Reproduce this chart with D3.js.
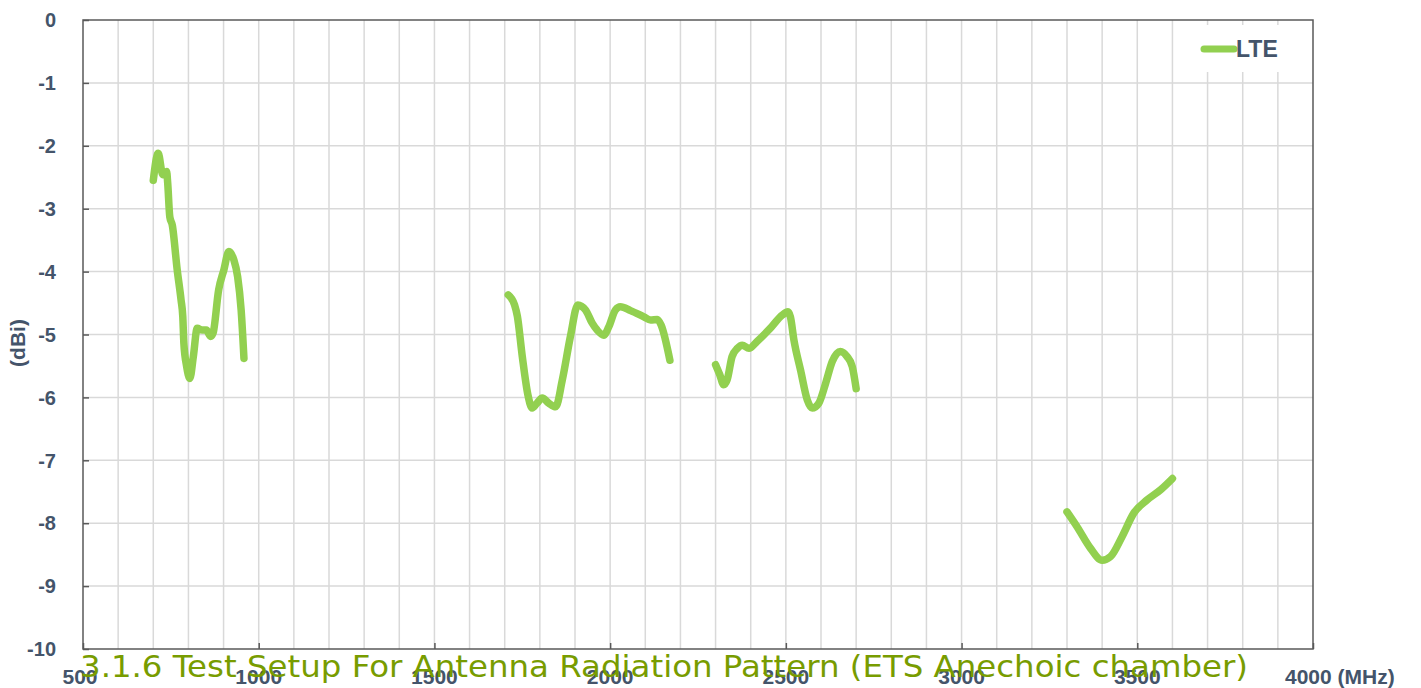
<!DOCTYPE html>
<html>
<head>
<meta charset="utf-8">
<script src="https://cdn.jsdelivr.net/npm/d3@7"></script>
<style>
  body { margin: 0; background: #fff; }
  .lbl { font-family: "Liberation Sans", Arial, sans-serif; font-weight: bold; }
  .title { font-family: "DejaVu Sans", Verdana, sans-serif; }
</style>
</head>
<body>
<div id="chart"></div>
<script>
// LTE gain per band
const band1Freq = [700, 714, 727, 738, 741, 747, 754, 768, 779, 784, 787, 795, 804, 814, 825, 839, 851, 863, 870, 886, 901, 915, 929, 940, 950, 958];
const band1Gain = [-2.55, -2.12, -2.46, -2.41, -2.59, -3.13, -3.26, -3.97, -4.45, -4.72, -5.14, -5.51, -5.70, -5.35, -4.90, -4.93, -4.93, -5.03, -4.98, -4.29, -3.97, -3.68, -3.81, -4.08, -4.61, -5.38];
const band2Freq = [1710, 1728, 1736, 1750, 1766, 1778, 1792, 1807, 1825, 1845, 1864, 1887, 1908, 1930, 1949, 1963, 1982, 1996, 2015, 2029, 2058, 2096, 2115, 2134, 2145, 2170];
const band2Gain = [-4.37, -4.53, -4.71, -5.35, -5.96, -6.17, -6.09, -6.01, -6.09, -6.15, -5.72, -5.03, -4.53, -4.61, -4.82, -4.93, -5.01, -4.88, -4.61, -4.56, -4.62, -4.72, -4.77, -4.76, -4.85, -5.41];
const band3Freq = [2300, 2312, 2323, 2333, 2347, 2362, 2376, 2395, 2418, 2456, 2490, 2506, 2513, 2523, 2542, 2561, 2575, 2594, 2613, 2632, 2655, 2674, 2689, 2700];
const band3Gain = [-5.48, -5.64, -5.80, -5.72, -5.35, -5.22, -5.17, -5.22, -5.11, -4.90, -4.69, -4.64, -4.72, -5.09, -5.57, -6.04, -6.17, -6.09, -5.78, -5.43, -5.27, -5.35, -5.51, -5.86];
const band4Freq = [3300, 3329, 3367, 3400, 3424, 3457, 3490, 3528, 3566, 3600];
const band4Gain = [-7.82, -8.06, -8.40, -8.59, -8.53, -8.21, -7.84, -7.63, -7.47, -7.29];

const xTicks = [500, 1000, 1500, 2000, 2500, 3000, 3500, 4000];
const yTicks = [0, -1, -2, -3, -4, -5, -6, -7, -8, -9, -10];
const seriesName = "LTE";
const titleText = "3.1.6 Test Setup For Antenna Radiation Pattern (ETS Anechoic chamber)";

const width = 1421;
const height = 688;
const marginLeft = 83;
const marginRight = 108;
const marginTop = 20;
const marginBottom = 39;

const textColor = "#44546a";
const lineColor = "#92d050";

const svg = d3.select('#chart').append('svg')
    .attr('width', width)
    .attr('height', height);

const x = d3.scaleLinear()
    .domain([500, 4000])
    .range([marginLeft, width - marginRight]);

const y = d3.scaleLinear()
    .domain([-10, 0])
    .range([height - marginBottom, marginTop]);

// grid: every 100 MHz and every 1 dB
svg.append("g")
    .attr("stroke", "#d9d9d9")
    .attr("stroke-width", 1.5)
    .selectAll()
    .data(d3.range(600, 4000, 100))
    .join("line")
    .attr("x1", d => x(d)).attr("x2", d => x(d))
    .attr("y1", marginTop).attr("y2", height - marginBottom);

svg.append("g")
    .attr("stroke", "#d9d9d9")
    .attr("stroke-width", 1.5)
    .selectAll()
    .data(yTicks.slice(1, -1))
    .join("line")
    .attr("x1", marginLeft).attr("x2", width - marginRight)
    .attr("y1", d => y(d)).attr("y2", d => y(d));

// axes (inner ticks, labels drawn separately)
svg.append("g")
    .attr("transform", `translate(0,${height - marginBottom})`)
    .call(d3.axisTop(x).tickValues(xTicks).tickSize(6).tickFormat(""))
    .call(g => g.selectAll(".tick line").attr("stroke", "#595959").attr("stroke-width", 1.5))
    .call(g => g.select(".domain").remove());

svg.append("g")
    .attr("transform", `translate(${marginLeft},0)`)
    .call(d3.axisRight(y).tickValues(yTicks).tickSize(6).tickFormat(""))
    .call(g => g.selectAll(".tick line").attr("stroke", "#595959").attr("stroke-width", 1.5))
    .call(g => g.select(".domain").remove());

// frame
svg.append("rect")
    .attr("x", marginLeft).attr("y", marginTop)
    .attr("width", width - marginRight - marginLeft)
    .attr("height", height - marginBottom - marginTop)
    .attr("fill", "none")
    .attr("stroke", "#595959")
    .attr("stroke-width", 1.5);

// tick labels
svg.append("g")
    .attr("class", "lbl")
    .attr("fill", textColor)
    .attr("font-size", 20)
    .attr("text-anchor", "end")
    .selectAll()
    .data(yTicks)
    .join("text")
    .attr("x", 56)
    .attr("y", d => y(d))
    .attr("dy", "0.36em")
    .text(d => d);

svg.append("g")
    .attr("class", "lbl")
    .attr("fill", textColor)
    .attr("font-size", 21)
    .attr("text-anchor", "middle")
    .selectAll()
    .data(xTicks.slice(0, -1))
    .join("text")
    .attr("x", d => x(d) - (d === 500 ? 3 : 0))
    .attr("y", 684)
    .text(d => d);

svg.append("text")
    .attr("class", "lbl")
    .attr("fill", textColor)
    .attr("font-size", 21)
    .attr("x", x(4000) - 28)
    .attr("y", 684)
    .text(xTicks[xTicks.length - 1] + " (MHz)");

svg.append("text")
    .attr("class", "lbl")
    .attr("fill", textColor)
    .attr("font-size", 21)
    .attr("text-anchor", "middle")
    .attr("transform", `translate(25,343) rotate(-90)`)
    .text("(dBi)");

// the LTE curve, one path per band
const bands = [
    d3.zip(band1Freq, band1Gain),
    d3.zip(band2Freq, band2Gain),
    d3.zip(band3Freq, band3Gain),
    d3.zip(band4Freq, band4Gain)
];

const line = d3.line()
    .x(d => x(d[0]))
    .y(d => y(d[1]))
    .curve(d3.curveMonotoneX);

svg.append("g")
    .attr("fill", "none")
    .attr("stroke", lineColor)
    .attr("stroke-width", 7.5)
    .attr("stroke-linecap", "round")
    .attr("stroke-linejoin", "round")
    .selectAll()
    .data(bands)
    .join("path")
    .attr("d", line);

// legend
const legend = svg.append("g");
legend.append("rect")
    .attr("x", 1182).attr("y", 25)
    .attr("width", 118).attr("height", 47)
    .attr("fill", "#fff");
legend.append("line")
    .attr("x1", 1204).attr("x2", 1234)
    .attr("y1", 49).attr("y2", 49)
    .attr("stroke", lineColor)
    .attr("stroke-width", 7)
    .attr("stroke-linecap", "round");
legend.append("text")
    .attr("class", "lbl")
    .attr("x", 1236).attr("y", 57)
    .attr("fill", textColor)
    .attr("font-size", 23)
    .text(seriesName);

// overlapping section title
svg.append("text")
    .attr("class", "title")
    .attr("x", 80).attr("y", 677)
    .attr("fill", "#789c00")
    .attr("font-size", 31)
    .attr("textLength", 1168)
    .attr("lengthAdjust", "spacingAndGlyphs")
    .text(titleText);
</script>
</body>
</html>
